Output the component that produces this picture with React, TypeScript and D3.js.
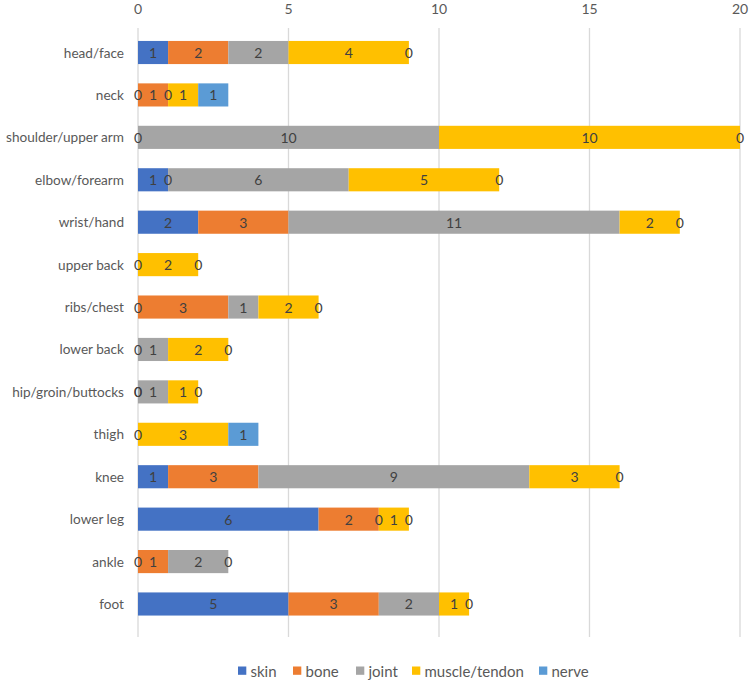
import React from "react";
import * as d3 from "d3";

const categories = [
  "head/face", "neck", "shoulder/upper arm", "elbow/forearm", "wrist/hand",
  "upper back", "ribs/chest", "lower back", "hip/groin/buttocks", "thigh",
  "knee", "lower leg", "ankle", "foot",
];
const seriesNames = ["skin", "bone", "joint", "muscle/tendon", "nerve"];
const skin: (number | null)[] =   [1, 0, 0, 1, 2, 0, 0, null, 0, 0, 1, 6, 0, 5];
const bone: (number | null)[] =   [2, 1, null, 0, 3, null, 3, 0, 0, null, 3, 2, 1, 3];
const joint: (number | null)[] =  [2, 0, 10, 6, 11, null, 1, 1, 1, null, 9, 0, 2, 2];
const muscle: (number | null)[] = [4, 1, 10, 5, 2, 2, 2, 2, 1, 3, 3, 1, 0, 1];
const nerve: (number | null)[] =  [0, 1, 0, 0, 0, 0, 0, 0, 0, 1, 0, 0, null, 0];
const xTicks = [0, 5, 10, 15, 20];
const colors = ["#4472C4", "#ED7D31", "#A5A5A5", "#FFC000", "#5B9BD5"];

const seriesValues = [skin, bone, joint, muscle, nerve];

export default function App() {
  const W = 750, H = 680;
  const font = "Lato, 'Open Sans', sans-serif";
  const x = d3.scaleLinear().domain([0, 20]).range([138, 740]);
  const y = d3.scaleBand<string>().domain(categories).range([31.3, 625.2]).paddingInner(0.455).paddingOuter(0.2275);
  const gridTop = 28, gridBottom = 637;

  const rows = categories.map((c, i) => {
    const o: any = { cat: c };
    seriesNames.forEach((s, k) => (o[s] = seriesValues[k][i] ?? 0));
    return o;
  });
  const stacked = d3.stack<any>().keys(seriesNames)(rows);

  const legendX = [238, 293, 356, 412, 539];

  const segs: any[] = [];
  stacked.forEach((layer, k) => {
    layer.forEach((d, i) => {
      const v = seriesValues[k][i];
      if (v === null) return;
      segs.push({ k, i, v, x0: x(d[0]), x1: x(d[1]), yy: y(categories[i]) ?? 0 });
    });
  });

  return (
    <svg width={W} height={H} style={{ position: "absolute", left: 0, top: 0, background: "#fff" }} fontFamily={font}>
      {xTicks.map((t) => (
        <g key={t}>
          <line x1={x(t)} x2={x(t)} y1={gridTop} y2={gridBottom} stroke="#D9D9D9" strokeWidth={1.3} />
          <text x={x(t)} y={8} textAnchor="middle" dominantBaseline="central" fontSize={14} fill="#595959">{t}</text>
        </g>
      ))}
      {categories.map((c) => (
        <text key={c} x={124} y={(y(c) ?? 0) + y.bandwidth() / 2} textAnchor="end" dominantBaseline="central" fontSize={13.6} fill="#595959">{c}</text>
      ))}
      {segs.map((s) =>
        s.v > 0 ? (
          <rect key={`r${s.k}-${s.i}`} x={s.x0} y={s.yy} width={s.x1 - s.x0} height={y.bandwidth()} fill={colors[s.k]} />
        ) : null
      )}
      {segs.map((s) => (
        <text key={`t${s.k}-${s.i}`} x={(s.x0 + s.x1) / 2} y={s.yy + y.bandwidth() / 2} textAnchor="middle" dominantBaseline="central" fontSize={14} fill="#404040">{s.v}</text>
      ))}
      {seriesNames.map((s, k) => (
        <g key={s}>
          <rect x={legendX[k]} y={666.5} width={8.3} height={8.3} fill={colors[k]} />
          <text x={legendX[k] + 12.5} y={670.5} dominantBaseline="central" fontSize={15} fill="#595959">{s}</text>
        </g>
      ))}
    </svg>
  );
}
